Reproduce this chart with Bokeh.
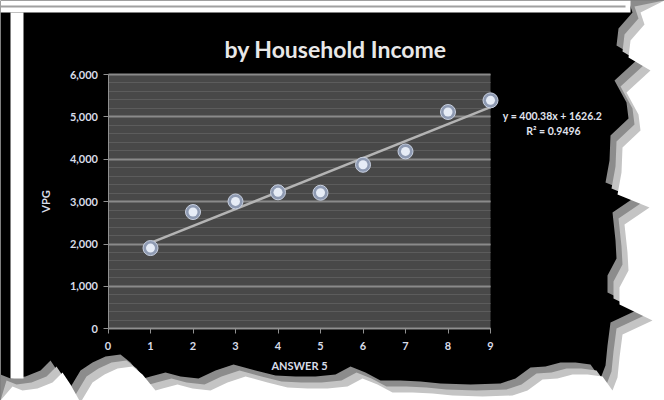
import numpy as np
from bokeh.plotting import figure
from bokeh.models import (ColumnDataSource, Label, PolyAnnotation, BoxAnnotation, NumeralTickFormatter,
                          FixedTicker, Range1d, LinearAxis, Grid)
from bokeh.embed import file_html
from bokeh.resources import INLINE

# ---- data ----
answer = [1, 2, 3, 4, 5, 6, 7, 8, 9]
vpg = [1905, 2755, 3005, 3220, 3210, 3870, 4185, 5115, 5390]
x_ticks = [0, 1, 2, 3, 4, 5, 6, 7, 8, 9]
y_ticks = [0, 1000, 2000, 3000, 4000, 5000, 6000]
y_minor = list(range(0, 6001, 200))
title_text = "by Household Income"
x_label = "ANSWER 5"
y_label = "VPG"
eq_text = "y = 400.38x + 1626.2"
r2_text = "R² = 0.9496"

FONT = "Lato"
W, H = 664, 400
# pixel layout of the plot area inside the picture
PX_LEFT, PX_RIGHT, PX_TOP, PX_BOTTOM = 107.5, 490.0, 74.0, 328.3
X0, X1, Y0, Y1 = 0, 9, 0, 6000
sx = (PX_RIGHT - PX_LEFT) / (X1 - X0)
sy = (PX_BOTTOM - PX_TOP) / (Y1 - Y0)
x_range = Range1d(X0 - PX_LEFT / sx, X1 + (W - PX_RIGHT) / sx)
y_range = Range1d(Y0 - (H - PX_BOTTOM) / sy, Y1 + PX_TOP / sy)

p = figure(width=W, height=H, output_backend="svg", toolbar_location=None,
           x_range=x_range, y_range=y_range, x_axis_location=None, y_axis_location=None,
           min_border=0)
p.border_fill_color = "black"
p.background_fill_color = "black"
p.outline_line_color = None
p.xgrid.visible = False
p.ygrid.visible = False

# plot area
p.add_layout(BoxAnnotation(left=X0, right=X1, bottom=Y0, top=Y1, fill_color="#484848", fill_alpha=1,
                           line_color=None, level="underlay"))

yticker = FixedTicker(ticks=y_ticks, minor_ticks=y_minor)
xticker = FixedTicker(ticks=x_ticks)
grid = Grid(dimension=1, ticker=yticker, bounds=(Y0, Y1), level="underlay",
            grid_line_color="#8a8a8a", grid_line_width=2,
            minor_grid_line_color="#5c5c5c", minor_grid_line_width=1)
if "cross_bounds" in Grid.properties():
    grid.cross_bounds = (X0, X1)
p.add_layout(grid)

xaxis = LinearAxis(fixed_location=Y0, bounds=(X0, X1), ticker=xticker, axis_label=x_label)
yaxis = LinearAxis(fixed_location=X0, bounds=(Y0, Y1), ticker=yticker, axis_label=y_label,
                   formatter=NumeralTickFormatter(format="0,0"))
for ax in (xaxis, yaxis):
    ax.axis_line_color = "#909090"
    ax.major_tick_line_color = "#909090"
    ax.major_tick_out = 5
    ax.major_tick_in = 0
    ax.minor_tick_line_color = None
    ax.major_label_text_color = "#d8dce8"
    ax.major_label_text_font = FONT
    ax.major_label_text_font_style = "bold"
    ax.major_label_text_font_size = "11px"
    ax.axis_label_text_color = "#d8dce8"
    ax.axis_label_text_font = FONT
    ax.axis_label_text_font_style = "bold"
    ax.axis_label_text_font_size = "11px"
xaxis.major_label_standoff = 8
yaxis.major_label_standoff = 5
xaxis.axis_label_standoff = 6
yaxis.axis_label_standoff = 15
p.add_layout(xaxis, "below")
p.add_layout(yaxis, "left")

# trend line computed from data
slope, intercept = np.polyfit(answer, vpg, 1)
tx = [min(answer), max(answer)]
ty = [slope * v + intercept for v in tx]
p.line(tx, ty, line_color="#b4b4b4", line_width=2.5)

src = ColumnDataSource(dict(x=answer, y=vpg))
p.scatter("x", "y", source=src, size=15, fill_color="#8e9ab2", line_color="#c8d0e0", line_width=1)
p.scatter("x", "y", source=src, size=9, fill_color="#e6ecf6", line_color=None)

# title and equation labels (canvas pixels)
p.add_layout(Label(x=335, y=48, x_units="canvas", y_units="canvas", text=title_text,
                   text_align="center", text_baseline="middle", text_color="#e8e8e8",
                   text_font=FONT, text_font_style="bold", text_font_size="23px"))
p.add_layout(Label(x=552, y=115, x_units="canvas", y_units="canvas", text=eq_text,
                   text_align="center", text_baseline="middle", text_color="#e0e4ee",
                   text_font=FONT, text_font_style="bold", text_font_size="10.5px"))
p.add_layout(Label(x=553, y=130, x_units="canvas", y_units="canvas", text=r2_text,
                   text_align="center", text_baseline="middle", text_color="#e0e4ee",
                   text_font=FONT, text_font_style="bold", text_font_size="10.5px"))

# ---- torn-paper decoration (canvas pixels) ----
edge = [(628, 0), (632, 12), (618, 28), (616, 45), (638, 58), (614, 80), (626, 102), (628, 118),
        (610, 135), (609, 160), (605, 182), (637, 195), (612, 212), (615, 240), (616, 258),
        (607, 275), (607, 292), (640, 308), (610, 322), (607, 345), (605, 365), (600, 378),
        (590, 364), (575, 362), (560, 362), (545, 366), (530, 367), (515, 378), (500, 383),
        (470, 384), (440, 383), (420, 381), (400, 380), (380, 380), (365, 372), (350, 366),
        (335, 374), (315, 376), (295, 376), (275, 375), (255, 370), (233, 364), (215, 370),
        (198, 378), (180, 376), (165, 372), (150, 376), (143, 378), (130, 362), (120, 354),
        (105, 356), (92, 362), (80, 370), (68, 390), (58, 372), (50, 360), (40, 370), (25, 376),
        (10, 378), (0, 374), (0, 400), (664, 400), (664, 0)]
ex = [e[0] for e in edge]
ey = [e[1] for e in edge]
p.add_layout(PolyAnnotation(xs=ex, ys=ey, xs_units="canvas", ys_units="canvas",
                            fill_color="#8c8c8c", fill_alpha=1, line_color=None))
p.add_layout(PolyAnnotation(xs=[v + 6 for v in ex[:-3]] + ex[-3:],
                            ys=[v + 6 for v in ey[:-3]] + ey[-3:],
                            xs_units="canvas", ys_units="canvas",
                            fill_color="#c4c4c4", fill_alpha=1, line_color=None))
p.add_layout(PolyAnnotation(xs=[v + 12 for v in ex[:-3]] + ex[-3:],
                            ys=[v + 12 for v in ey[:-3]] + ey[-3:],
                            xs_units="canvas", ys_units="canvas",
                            fill_color="white", fill_alpha=1, line_color=None))
# top strip and left bar
p.add_layout(PolyAnnotation(xs=[0, 630, 630, 0], ys=[0, 0, 12, 12], xs_units="canvas", ys_units="canvas",
                            fill_color="white", fill_alpha=1, line_color=None))
p.add_layout(PolyAnnotation(xs=[0, 625, 625, 0], ys=[5, 5, 7, 7], xs_units="canvas", ys_units="canvas",
                            fill_color="#a0a0a0", fill_alpha=1, line_color=None))
p.add_layout(PolyAnnotation(xs=[10, 23, 23, 10], ys=[12, 12, 378, 378], xs_units="canvas", ys_units="canvas",
                            fill_color="white", fill_alpha=1, line_color=None))

open("out.html", "w").write(file_html(p, INLINE))
